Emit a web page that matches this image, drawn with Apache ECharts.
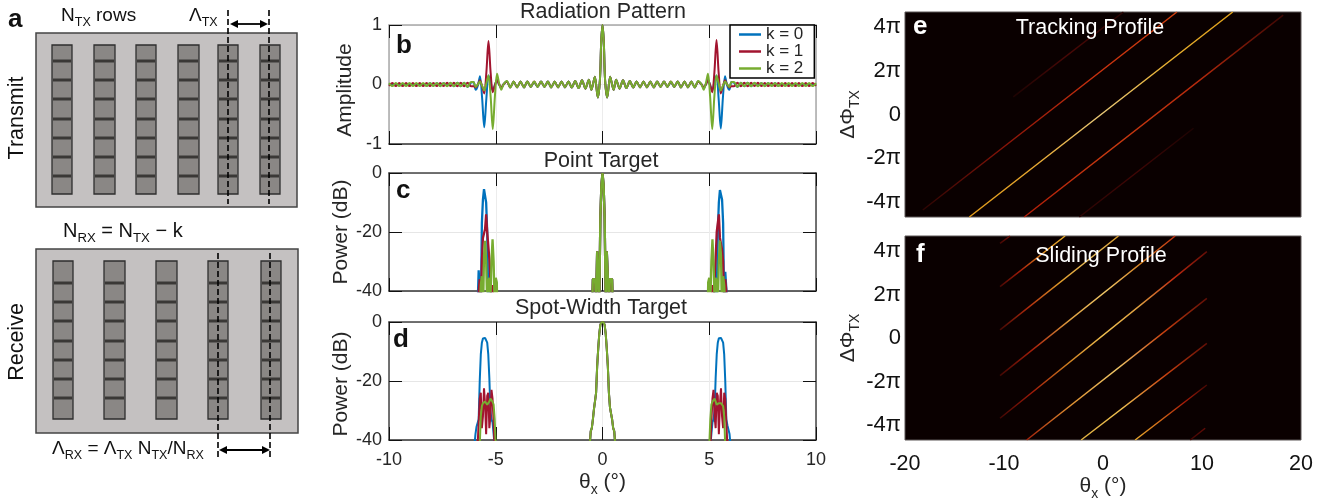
<!DOCTYPE html>
<html>
<head>
<meta charset="utf-8">
<title>Radiation pattern panels</title>
<style>
html,body{margin:0;padding:0;background:#fff;}
#main{width:1329px;height:498px;}
</style>
<script src="https://cdn.jsdelivr.net/npm/echarts@6/dist/echarts.min.js"></script>
</head>
<body>
<div id="main"></div>
<script>
// ---- panel b: radiation pattern amplitude ----
var thetaB = [-10,-9.84,-9.68,-9.52,-9.36,-9.2,-9.04,-8.88,-8.72,-8.56,-8.4,-8.24,-8.08,-7.92,-7.76,-7.6,-7.44,-7.28,-7.12,-6.96,-6.8,-6.64,-6.48,-6.32,-6.16,
  -6.04,-5.94,-5.84,-5.74,-5.64,-5.54,-5.44,-5.34,-5.24,-5.14,-5.04,-4.94,-4.84,-4.74,-4.64,
  -4.48,-4.32,-4.16,-4,-3.84,-3.68,-3.52,-3.36,-3.2,-3.04,-2.88,-2.72,-2.56,-2.4,-2.24,-2.08,-1.92,-1.76,-1.6,-1.44,-1.28,-1.12,-0.96,-0.8,-0.64,
  -0.52,-0.36,-0.22,-0.12,-0.06,0,0.06,0.12,0.22,0.36,0.52,
  0.64,0.8,0.96,1.12,1.28,1.44,1.6,1.76,1.92,2.08,2.24,2.4,2.56,2.72,2.88,3.04,3.2,3.36,3.52,3.68,3.84,4,4.16,4.32,4.48,
  4.64,4.74,4.84,4.94,5.04,5.14,5.24,5.34,5.44,5.54,5.64,5.74,5.84,5.94,6.04,
  6.16,6.32,6.48,6.64,6.8,6.96,7.12,7.28,7.44,7.6,7.76,7.92,8.08,8.24,8.4,8.56,8.72,8.88,9.04,9.2,9.36,9.52,9.68,9.84,10];
var ampK0 = [.01,-.01,.01,-.01,.01,-.01,.01,-.01,.01,-.01,.01,-.02,.02,-.02,.02,-.02,.02,-.02,.02,-.03,.03,-.03,.03,-.04,.03,
  .04,-.09,-.02,.14,-.22,-.72,-.24,.15,.02,-.1,-.01,.08,0,-.06,0,
  .05,-.05,.05,-.05,.05,-.05,.05,-.04,.04,-.04,.05,-.04,.05,-.05,.05,-.05,.05,-.05,.05,-.05,.06,-.06,.07,-.07,.08,
  -.09,.13,-.22,.08,.72,1,.72,.08,-.22,.13,-.09,
  .08,-.07,.07,-.06,.06,-.05,.05,-.05,.05,-.05,.05,-.05,.05,-.04,.05,-.04,.04,-.04,.05,-.05,.05,-.05,.05,-.05,.05,
  0,-.06,0,.08,-.01,-.1,.02,.15,-.24,-.74,-.22,.14,-.02,-.09,.04,
  .03,-.04,.03,-.03,.03,-.03,.02,-.02,.02,-.02,.02,-.02,.02,-.02,.01,-.01,.01,-.01,.01,-.01,.01,-.01,.01,-.01,.01];
var ampK1 = [-.025,.025,-.025,.025,-.025,.025,-.025,.025,-.025,.025,-.025,.025,-.025,.025,-.025,.025,-.025,.03,-.025,.03,-.03,.03,-.03,.03,-.03,
  -.03,-.05,0,.07,-.03,-.15,.2,.73,.2,-.13,-.01,.07,0,-.05,0,
  .05,-.05,.05,-.05,.05,-.05,.05,-.04,.05,-.04,.05,-.04,.05,-.05,.05,-.05,.05,-.05,.05,-.05,.06,-.06,.07,-.07,.08,
  -.09,.13,-.22,.08,.72,1,.72,.08,-.22,.13,-.09,
  .08,-.07,.07,-.06,.06,-.05,.05,-.05,.05,-.05,.05,-.05,.05,-.04,.05,-.04,.05,-.04,.05,-.05,.05,-.05,.05,-.05,.05,
  0,-.05,0,.07,-.01,-.13,.2,.75,.2,-.15,-.03,.07,0,-.05,-.03,
  -.03,.03,-.03,.03,-.03,.03,-.025,.03,-.025,.025,-.025,.025,-.025,.025,-.025,.025,-.025,.025,-.025,.025,-.025,.025,-.025,.025,-.025];
var ampK2 = [.025,-.025,.025,-.025,.025,-.025,.025,-.025,.025,-.025,.025,-.025,.025,-.025,.025,-.03,.025,-.03,.03,-.03,.03,-.03,.03,-.04,.04,
  .04,-.04,0,.05,-.02,-.1,.02,.15,-.2,-.75,-.2,.18,.02,-.09,0,
  .06,-.05,.05,-.05,.05,-.05,.05,-.04,.05,-.04,.05,-.04,.05,-.05,.05,-.05,.05,-.05,.05,-.05,.06,-.06,.07,-.07,.08,
  -.09,.13,-.22,.08,.72,1,.72,.08,-.22,.13,-.09,
  .08,-.07,.07,-.06,.06,-.05,.05,-.05,.05,-.05,.05,-.05,.05,-.04,.05,-.04,.05,-.04,.05,-.05,.05,-.05,.05,-.05,.06,
  0,-.09,.02,.18,-.2,-.75,-.2,.15,.02,-.1,-.02,.05,0,-.04,.04,
  .04,-.04,.03,-.03,.03,-.03,.03,-.03,.025,-.03,.025,-.025,.025,-.025,.025,-.025,.025,-.025,.025,-.025,.025,-.025,.025,-.025,.025];

// ---- panels c and d: power in dB, values under -40 fall outside the axis ----
var thetaLeft = [-6,-5.95,-5.9,-5.85,-5.8,-5.75,-5.7,-5.65,-5.6,-5.55,-5.5,-5.45,-5.4,-5.35,-5.3,-5.25,-5.2,-5.15,-5.1,-5.05,-5,-4.95,-4.9];
var thetaMid = [-.6,-.55,-.5,-.45,-.4,-.35,-.3,-.25,-.2,-.15,-.1,-.05,0,.05,.1,.15,.2,.25,.3,.35,.4,.45,.5,.55,.6];
var thetaRight = [4.9,4.95,5,5.05,5.1,5.15,5.2,5.25,5.3,5.35,5.4,5.45,5.5,5.55,5.6,5.65,5.7,5.75,5.8,5.85,5.9,5.95,6];

var pointMid = [-60,-60,-50,-36,-35.5,-36,-44,-26.5,-26.5,-44,-15,-4,0,-4,-15,-44,-26.5,-26.5,-44,-36,-35.5,-36,-50,-60,-60];
var pointK0Left = [-60,-60,-60,-45,-33,-33.5,-48,-17,-9,-5.5,-5.8,-10,-20,-44,-36,-34,-44,-60,-60,-60,-60,-60,-60];
var pointK1Left = [-60,-60,-60,-60,-40,-36,-46,-30,-22,-20.5,-19,-14,-20,-20,-29,-36,-46,-38,-60,-60,-60,-60,-60];
var pointK2Left = [-60,-60,-60,-60,-60,-45,-38,-35,-50,-28,-23,-30,-45,-37,-35.5,-44,-30,-22.5,-30,-45,-35.5,-37,-60];
var pointK0Right = [-60,-60,-60,-60,-60,-60,-44,-34,-36,-44,-20,-10,-5.8,-5.5,-9,-17,-48,-33.5,-33,-45,-60,-60,-60];
var pointK1Right = [-60,-60,-60,-60,-60,-38,-46,-36,-29,-20,-20,-14,-22,-24,-26,-30,-46,-36,-40,-60,-60,-60,-60];
var pointK2Right = [-60,-37,-35.5,-44,-30,-22.5,-30,-44,-35.5,-37,-45,-30,-23,-28,-50,-35,-38,-45,-60,-60,-60,-60,-60];

var spotMid = [-42,-37,-36,-33,-29.5,-29,-24,-15,-9,-4,-1,-.1,0,-.1,-1,-4,-9,-15,-24,-29,-29.5,-33,-36,-37,-42];
var spotK0Left = [-42,-38,-35.5,-35,-33,-20,-11,-7,-5.6,-5.4,-5.4,-5.5,-7,-11,-19,-30,-33,-34,-38,-42,-60,-60,-60];
var spotK1Left = [-60,-60,-60,-42,-34,-26,-24,-36,-32,-22.5,-28,-38,-25,-24,-36,-32,-23,-26,-34,-44,-60,-60,-60];
var spotK2Left = [-60,-60,-60,-60,-60,-42,-32,-28.5,-27.5,-27.5,-27,-27.5,-28,-28,-27,-26,-26.5,-27,-28,-33,-42,-60,-60];
var spotK0Right = [-60,-60,-60,-42,-38,-34,-33,-30,-19,-11,-7,-5.5,-5.4,-5.4,-5.6,-7,-11,-20,-33,-35,-35.5,-38,-42];
var spotK1Right = [-60,-60,-60,-44,-34,-26,-23,-32,-36,-24,-25,-38,-28,-22.5,-32,-36,-24,-26,-34,-42,-60,-60,-60];
var spotK2Right = [-60,-60,-42,-33,-28,-27,-26.5,-26,-27,-28,-28,-27.5,-27,-27.5,-27.5,-28.5,-32,-42,-60,-60,-60,-60,-60];

// ---- panels e and f: streak ends [x1, y1, x2, y2], y in units of pi ----
var trackingStreaks = [
  [-9.06,0.81,2.06,4.69],
  [-18.2,-4.37,7.46,4.69],
  [-13.5,-4.69,13.1,4.69],
  [-7.95,-4.69,18.2,4.55],
  [-2.39,-4.69,9.14,-0.63]
];
var trackingColors = [
  ['#1c0302','#4a0806','#2a0403'],
  ['#2a0403','#8a1408','#c8300e','#d0400f'],
  ['#e09a18','#e8a830','#e8c878','#e8b030','#e0a018'],
  ['#b01c08','#c83a10','#b82a0c','#3a0503'],
  ['#2a0403','#400605','#1c0302']
];
var slidingStreaks = [
  [-10.4,4.35,-9.39,4.69],
  [-10.4,2.36,-3.83,4.69],
  [-10.4,0.37,1.56,4.69],
  [-10.4,-1.73,7.29,4.69],
  [-10.4,-3.69,10.49,3.97],
  [-7.71,-4.69,10.49,1.82],
  [-2.21,-4.69,10.49,-0.25],
  [3.25,-4.69,10.49,-2.16],
  [8.81,-4.69,10.32,-4.15]
];
var slidingColors = [
  ['#3a0503','#7a1006'],
  ['#3a0503','#a81c08','#e09020','#e8b030'],
  ['#3a0503','#b02a0c','#e09a28','#e8c060','#d89828'],
  ['#3a0503','#a8200a','#e0a040','#f0c868','#d88020','#c02a10'],
  ['#3a0503','#a01a08','#d08020','#f0c050','#e0a040','#c02a10','#5a0a05'],
  ['#a01a08','#e09030','#f0c868','#c8400f','#5a0a05'],
  ['#e0b040','#f0c050','#c8400f','#5a0a05'],
  ['#e8b030','#d87018','#a81c08','#3a0503'],
  ['#3a0503','#6a0c06']
];

var FONT = 'Liberation Sans';
var INK = '#262626';
var colors = ['#0072BD','#A2142F','#77AC30'];
var names = ['k = 0','k = 1','k = 2'];
// main text sits a little above the line box bottom so the subscript drops below it
var nameRich = {
  t:{fontFamily:FONT,fontSize:21,color:INK,verticalAlign:'bottom',padding:[0,0,4,0]},
  s:{fontFamily:FONT,fontSize:14,color:INK,verticalAlign:'bottom'}
};

function zip(xs,ys){
  var out = [];
  for(var i=0;i<xs.length;i++){ out.push([xs[i],ys[i]]); }
  return out;
}

var grids = [
  {left:389,top:25,width:427,height:119},
  {left:389,top:173,width:427,height:118},
  {left:389,top:322,width:427,height:118},
  {left:905,top:12,width:396,height:205,show:true,backgroundColor:'#0a0000',borderColor:'#5a5555',borderWidth:1},
  {left:905,top:236,width:396,height:204,show:true,backgroundColor:'#0a0000',borderColor:'#5a5555',borderWidth:1}
];
grids.forEach(function(g){ g.outerBoundsMode = 'none'; });

var xAxes = [], yAxes = [], series = [];

// line panels: box axes with inward ticks on all four sides
function linePanel(idx,ymin,ymax,yint,yName,namePad,frame,showX){
  var tick = {show:true,inside:true,length:13,lineStyle:{color:'#111',width:1}};
  var line = {show:true,onZero:false,lineStyle:{color:frame,width:1.5}};
  var a = xAxes.length, b = yAxes.length;
  xAxes.push({gridIndex:idx,type:'value',position:'bottom',min:-10,max:10,interval:5,
    axisTick:tick,axisLine:{show:true,onZero:false,lineStyle:{color:'#333',width:1.5}},
    splitLine:{show:true,lineStyle:{color:'#ececec',width:1}},
    axisLabel:{show:showX,color:INK,fontSize:18,margin:11,fontFamily:FONT},
    name:showX?'{t|θ}{s|x}{t| (°)}':'',nameLocation:'middle',nameGap:32,
    nameTextStyle:{rich:nameRich}});
  xAxes.push({gridIndex:idx,type:'value',position:'top',min:-10,max:10,interval:5,
    axisTick:tick,axisLine:line,splitLine:{show:false},axisLabel:{show:false}});
  yAxes.push({gridIndex:idx,type:'value',position:'left',min:ymin,max:ymax,interval:yint,
    axisTick:tick,axisLine:line,splitLine:{show:true,lineStyle:{color:'#e6e6e6',width:1}},
    axisLabel:{color:INK,fontSize:18,margin:7,fontFamily:FONT},
    name:yName,nameLocation:'middle',nameGap:33,
    nameTextStyle:{color:INK,fontSize:21,fontFamily:FONT,padding:[0,namePad,0,0]}});
  yAxes.push({gridIndex:idx,type:'value',position:'right',min:ymin,max:ymax,interval:yint,
    axisTick:tick,axisLine:line,splitLine:{show:false},axisLabel:{show:false}});
  return [a,b];
}

function addCurves(ax,smooth,width,k0,k1,k2,xs){
  [k0,k1,k2].forEach(function(ys,i){
    series.push({name:names[i],type:'line',xAxisIndex:ax[0],yAxisIndex:ax[1],data:zip(xs,ys),
      symbol:'none',smooth:smooth,clip:true,silent:true,animation:false,
      lineStyle:{color:colors[i],width:width},itemStyle:{color:colors[i]}});
  });
}

var thetaLobes = thetaLeft.concat(thetaMid,thetaRight);
addCurves(linePanel(0,-1,1,1,'Amplitude',11,'#a8a8a8',false),0.3,2,ampK0,ampK1,ampK2,thetaB);
addCurves(linePanel(1,-40,0,20,'Power (dB)',0,'#444',false),false,2.3,
  pointK0Left.concat(pointMid,pointK0Right),
  pointK1Left.concat(pointMid,pointK1Right),
  pointK2Left.concat(pointMid,pointK2Right),thetaLobes);
addCurves(linePanel(2,-40,0,20,'Power (dB)',6,'#444',true),false,2,
  spotK0Left.concat(spotMid,spotK0Right),
  spotK1Left.concat(spotMid,spotK1Right),
  spotK2Left.concat(spotMid,spotK2Right),thetaLobes);

// streak panels: dark plot, tick labels in units of pi
function streakPanel(idx,showX,streaks,tints){
  var a = xAxes.length, b = yAxes.length;
  xAxes.push({gridIndex:idx,type:'value',min:-20,max:20,interval:10,position:'bottom',
    axisLine:{show:false},axisTick:{show:false},splitLine:{show:false},
    axisLabel:{show:showX,color:'#111',fontSize:21.5,margin:13,fontFamily:FONT},
    name:showX?'{t|θ}{s|x}{t| (°)}':'',nameLocation:'middle',nameGap:32,
    nameTextStyle:{rich:nameRich}});
  yAxes.push({gridIndex:idx,type:'value',min:-4.69,max:4.69,position:'left',
    axisLine:{show:false},axisTick:{show:false},splitLine:{show:false},
    axisLabel:{color:'#111',fontSize:22,margin:4,fontFamily:FONT,customValues:[-4,-2,0,2,4],
      formatter:function(v){ return v===0?'0':v+'π'; }},
    name:'{t|ΔΦ}{s|TX}',nameLocation:'middle',nameGap:40,
    nameTextStyle:{rich:nameRich}});
  streaks.forEach(function(s,i){
    var stops = tints[i].map(function(c,j){ return {offset:j/(tints[i].length-1),color:c}; });
    series.push({type:'line',xAxisIndex:a,yAxisIndex:b,data:[[s[0],s[1]],[s[2],s[3]]],
      symbol:'none',silent:true,animation:false,clip:true,
      lineStyle:{width:1.5,color:{type:'linear',x:0,y:1,x2:1,y2:0,colorStops:stops}}});
  });
}
streakPanel(3,false,trackingStreaks,trackingColors);
streakPanel(4,true,slidingStreaks,slidingColors);

// ---- panel a: the schematic, plus the panel letters ----
var elems = [];
function label(x,y,str,size,opt){
  opt = opt || {};
  var sub = {fontFamily:FONT,fontSize:size*0.66,fill:'#111',verticalAlign:'bottom'};
  var main = {fontFamily:FONT,fontSize:size,fill:opt.fill||'#111',verticalAlign:'bottom',padding:[0,0,4,0]};
  elems.push({type:'text',x:x,y:y,rotation:opt.rot||0,z:20,silent:true,style:{
    text:str,fontFamily:FONT,fontSize:size,fontWeight:opt.bold?'bold':'normal',fill:opt.fill||'#111',
    align:opt.align||'left',verticalAlign:'middle',rich:{n:main,s:sub}}});
}
function plate(x1,y1,x2,y2,cols,rowsY,colY1,colY2){
  elems.push({type:'rect',shape:{x:x1,y:y1,width:x2-x1,height:y2-y1},
    style:{fill:'#c4c1c1',stroke:'#444',lineWidth:1.5}});
  cols.forEach(function(c){
    elems.push({type:'rect',shape:{x:c[0],y:colY1,width:c[1]-c[0],height:colY2-colY1},
      style:{fill:'#8a8785',stroke:'#2e2e2e',lineWidth:1.3}});
    rowsY.forEach(function(r){
      elems.push({type:'rect',shape:{x:c[0]+1,y:r-1.5,width:c[1]-c[0]-2,height:3},style:{fill:'#3a3836'}});
    });
  });
}
function dashed(x,y1,y2){
  elems.push({type:'line',z:10,shape:{x1:x,y1:y1,x2:x,y2:y2},style:{stroke:'#000',lineWidth:1.6,lineDash:[6,3]}});
}
function arrow(x1,x2,y){
  elems.push({type:'line',z:10,shape:{x1:x1+4,y1:y,x2:x2-4,y2:y},style:{stroke:'#000',lineWidth:1.8}});
  elems.push({type:'polygon',z:10,shape:{points:[[x1,y],[x1+8,y-4],[x1+8,y+4]]},style:{fill:'#000'}});
  elems.push({type:'polygon',z:10,shape:{points:[[x2,y],[x2-8,y-4],[x2-8,y+4]]},style:{fill:'#000'}});
}
plate(36,33,297,207,[[52,72],[94,115],[136,156],[178,199],[218,238],[260,280]],[61,80,99,119,138,157,176],45,194);
plate(36,249,298,433,[[53,73],[104,125],[156,177],[208,228],[261,281]],[283,302,321,341,360,379,398],261,419);
dashed(228,10,204);
dashed(269,10,204);
dashed(218,253,459);
dashed(270,253,459);
arrow(230,268,24);
arrow(219,270,450);
label(8,20,'a',26,{bold:true});
label(61,18,'{n|N}{s|TX}{n| rows}',19);
label(189,18,'{n|Λ}{s|TX}',19);
label(17,118,'Transmit',21.5,{rot:Math.PI/2,align:'center'});
label(63,233,'{n|N}{s|RX}{n| = N}{s|TX}{n| − k}',20);
label(52,451,'{n|Λ}{s|RX}{n| = Λ}{s|TX}{n| N}{s|TX}{n|/N}{s|RX}',19);
label(17,342,'Receive',21.5,{rot:Math.PI/2,align:'center'});
label(396,46,'b',26,{bold:true});
label(396,191,'c',26,{bold:true});
label(393,340,'d',26,{bold:true});
label(913,27,'e',26,{bold:true,fill:'#fff'});
label(916,255,'f',26,{bold:true,fill:'#fff'});

var titleFont = {color:INK,fontSize:21.5,fontWeight:'normal',fontFamily:FONT};
var titleWhite = {color:'#fff',fontSize:21.5,fontWeight:'normal',fontFamily:FONT};

var chart = echarts.init(document.getElementById('main'));
chart.setOption({
  animation:false,
  backgroundColor:'#fff',
  textStyle:{fontFamily:FONT},
  title:[
    {text:'Radiation Pattern',left:603,top:1,padding:0,textAlign:'center',textStyle:titleFont},
    {text:'Point Target',left:601,top:150,padding:0,textAlign:'center',textStyle:titleFont},
    {text:'Spot-Width Target',left:601,top:297,padding:0,textAlign:'center',textStyle:titleFont},
    {text:'Tracking Profile',left:1090,top:17,padding:0,textAlign:'center',textStyle:titleWhite},
    {text:'Sliding Profile',left:1101,top:245,padding:0,textAlign:'center',textStyle:titleWhite}
  ],
  legend:{data:names,orient:'vertical',left:730,top:25,padding:[1,11,1,9],itemGap:0,itemWidth:22,itemHeight:2.5,icon:'rect',
    backgroundColor:'#fff',borderColor:'#000',borderWidth:1.5,borderRadius:0,selectedMode:false,
    textStyle:{color:INK,fontSize:17,lineHeight:17,fontFamily:FONT}},
  grid:grids,
  xAxis:xAxes,
  yAxis:yAxes,
  series:series,
  graphic:{elements:elems}
});
</script>
</body>
</html>
